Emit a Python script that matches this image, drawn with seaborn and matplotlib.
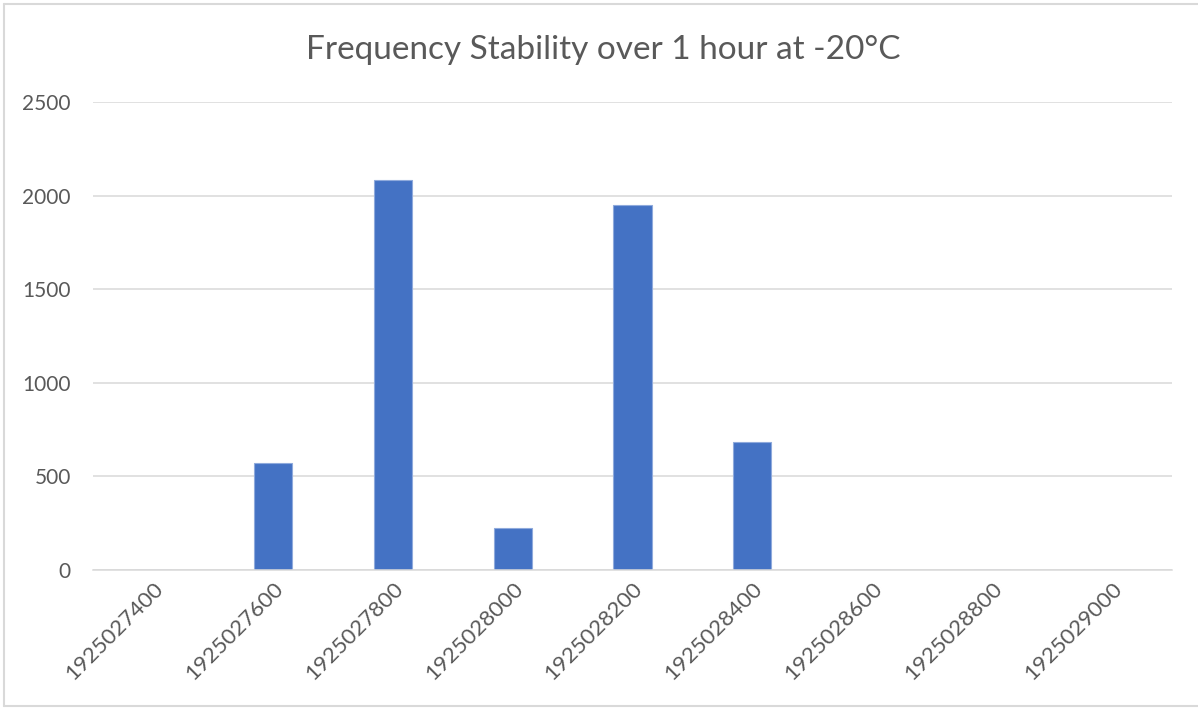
import matplotlib
matplotlib.use("Agg")
import matplotlib.pyplot as plt
from matplotlib.lines import Line2D
import seaborn as sns
import pandas as pd

# Frequency bins (Hz) and counts of readings in each bin
bins = ["1925027400", "1925027600", "1925027800", "1925028000", "1925028200",
        "1925028400", "1925028600", "1925028800", "1925029000"]
counts = [0, 572, 2083, 225, 1950, 686, 0, 0, 0]
yticks = [0, 500, 1000, 1500, 2000, 2500]

title = "Frequency Stability over 1 hour at -20°C"
bar_color = "#4472C4"
text_color = "#595959"
grid_color = "#D9D9D9"

sns.set_theme(style="white")
plt.rcParams["font.family"] = ["Lato", "DejaVu Sans"]

W, H = 1198, 709
fig = plt.figure(figsize=(W / 100, H / 100), dpi=100)
ax = fig.add_axes([93 / W, (H - 570) / H, (1172 - 93) / W, (570 - 102) / H])

df = pd.DataFrame({"bin": bins, "count": counts})
sns.barplot(data=df, x="bin", y="count", order=bins, color=bar_color,
            saturation=1, width=0.317, linewidth=0.8, edgecolor="#8FAADC", ax=ax)

ax.set_ylim(0, 2500)
ax.set_xlim(-0.5, len(bins) - 0.5)
ax.set_yticks(yticks)
ax.set_yticklabels([str(v) for v in yticks])
ax.set_xlabel("")
ax.set_ylabel("")

ax.yaxis.grid(True, color=grid_color, linewidth=1.1)
ax.set_axisbelow(True)
for s in ["top", "right", "left"]:
    ax.spines[s].set_visible(False)
ax.spines["bottom"].set_color(grid_color)
ax.spines["bottom"].set_linewidth(1.1)

ax.tick_params(axis="y", length=0, pad=16, labelsize=15, labelcolor=text_color)
ax.tick_params(axis="x", length=0, pad=6, labelsize=16, labelcolor=text_color)
for lab in ax.get_xticklabels():
    lab.set_rotation(45)
    lab.set_ha("right")
    lab.set_va("top")
    lab.set_rotation_mode("anchor")

fig.text(603 / W, 1 - 50 / H, title, ha="center", va="center",
         fontsize=24, color=text_color)

# chart-area border
fx = lambda px: px / W
fy = lambda py: 1 - py / H
for xs, ys in [([fx(4), fx(1200)], [fy(4), fy(4)]),
               ([fx(4), fx(4)], [fy(4), fy(706)]),
               ([fx(4), fx(1200)], [fy(706), fy(706)])]:
    fig.add_artist(Line2D(xs, ys, color=grid_color, linewidth=1.5))

fig.savefig("out.png", dpi=100)
